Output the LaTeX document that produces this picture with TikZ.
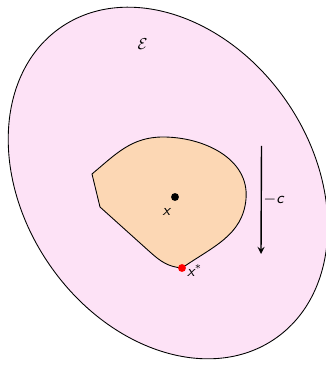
\documentclass[tikz,border=0pt]{standalone}
\usetikzlibrary{arrows,positioning}
\definecolor{setpink}{RGB}{253,226,246}
\definecolor{feaspeach}{RGB}{252,215,180}
\tikzstyle{outer}=[draw=black,fill=setpink,line width=0.5pt]
\tikzstyle{feas}=[draw=black,fill=feaspeach,line width=0.5pt]
\tikzstyle{pt}=[circle,inner sep=0pt,minimum size=4.5pt]
\tikzstyle{lbl}=[font=\small\sffamily\itshape,inner sep=1pt]
\tikzstyle{arr}=[-stealth,line width=0.8pt]

\begin{document}
\begin{tikzpicture}[x=0.02cm,y=0.02cm]
\useasboundingbox (0,0) rectangle (325,365);
% outer set
\draw[outer,rotate around={-55.5:(168,182)}] (168,182) ellipse [x radius=3.78cm,y radius=2.88cm];
\node[font=\small] (elab) at (142.5,321) {$\mathcal{E}$};
% feasible region
\draw[feas] (92,191) -- (100,158) -- (150,113) to[out=-42,in=175] (182,97)
  to[out=35,in=-95] (246,166) to[out=85,in=0] (163,228) to[out=180,in=40] (92,191) -- cycle;
\node[pt,fill=black] (xc) at (175,168) {};
\node[lbl,anchor=base west] (xlab) at (160.5,149.3) {x};
\node[pt,fill=red] (xs) at (182,97) {};
\node[lbl,anchor=base west] (xslab) at (185,88.3) {x$^{*}$};
% direction
\coordinate (ctop) at (261.5,219);
\coordinate (cbot) at (261,111);
\draw[arr] (ctop) -- (cbot) node[lbl,midway,right] (clab) {$-$c};
\end{tikzpicture}
\end{document}
